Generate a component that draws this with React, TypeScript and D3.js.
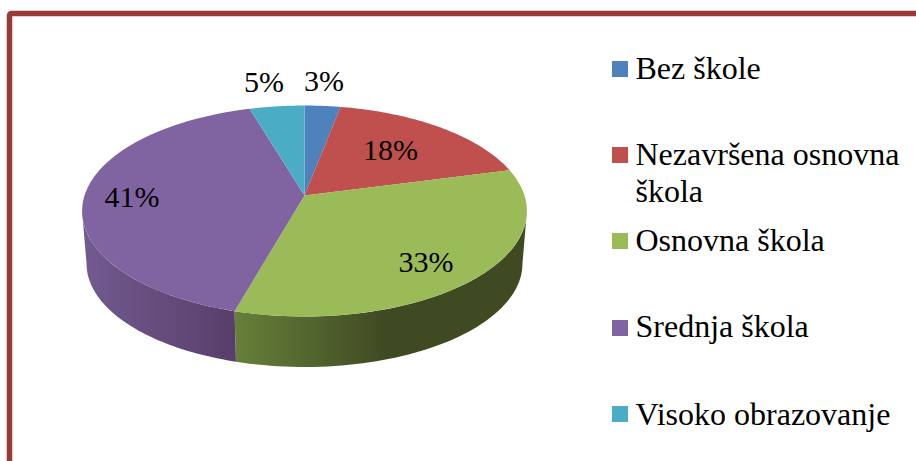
import React from 'react';
import * as d3 from 'd3';

const categories = ['Bez škole', 'Nezavršena osnovna škola', 'Osnovna škola', 'Srednja škola', 'Visoko obrazovanje'];
const values = [3, 17.9, 33.5, 41, 4.6];
const percentLabels = ['3%', '18%', '33%', '41%', '5%'];
const topColors = ['#4f81bd', '#c0504d', '#9bbb59', '#8064a2', '#4bacc6'];
const wallFrom = ['#3a5f8a', '#8c3a38', '#67803a', '#735a90', '#37808f'];
const wallTo = ['#3a5f8a', '#8c3a38', '#3f4a22', '#583f6a', '#37808f'];
const legendLines = [['Bez škole'], ['Nezavršena osnovna', 'škola'], ['Osnovna škola'], ['Srednja škola'], ['Visoko obrazovanje']];
const swatchY = [69, 155, 241, 328, 414];
const legendBaseline = [79, 165, 251, 337, 425];
const labelPos: [number, number][] = [[324, 91], [390.5, 160], [426, 272], [132, 207], [264, 92]];

const cx = 304.5, apexY = 195.5, a = 220, b = 103.2, k = 0.147;
const project = (ang: number, s: number, ay: number): [number, number] => {
  const x = Math.sin(ang), y = Math.cos(ang), w = 1 + k * y;
  return [cx + (s * a * x) / w, ay - (s * b * y) / w];
};
const arcPts = (a0: number, a1: number, s: number, ay: number) =>
  d3.range(0, 61).map((i) => project(a0 + ((a1 - a0) * i) / 60, s, ay));
const line = d3.line();
const arcs = d3.pie<number>().sort(null).value((d) => d)(values);
const BOTTOM_S = 0.98, BOTTOM_AY = 248.4;
// Angle at which the projected rim reaches its widest point: the wall's silhouette starts there.
const rimExtreme = Math.acos(-k);

export default function App() {
  return (
    <svg width={916} height={461} style={{ position: 'fixed', left: 0, top: 0, background: '#fff', display: 'block' }}>
      <defs>
        <linearGradient id="wall2" gradientUnits="userSpaceOnUse" x1={234} x2={385} y1={0} y2={0}>
          <stop offset="0" stopColor={wallFrom[2]} />
          <stop offset="1" stopColor={wallTo[2]} />
        </linearGradient>
        <linearGradient id="wall3" gradientUnits="userSpaceOnUse" x1={82} x2={234} y1={0} y2={0}>
          <stop offset="0" stopColor={wallFrom[3]} />
          <stop offset="1" stopColor={wallTo[3]} />
        </linearGradient>
      </defs>
      <path d="M9.5 461 V16 Q9.5 13.5 12 13.5 H916" fill="none" stroke="#993a37" strokeWidth={5.5} />
      {arcs.map((d, i) => {
        if (i !== 2 && i !== 3) return null;
        const s = Math.max(d.startAngle, rimExtreme);
        const e = Math.min(d.endAngle, 2 * Math.PI - rimExtreme);
        return (
          <path
            key={i}
            d={(line([...arcPts(s, e, 1, apexY), ...arcPts(e, s, BOTTOM_S, BOTTOM_AY)]) ?? '') + 'Z'}
            fill={`url(#wall${i})`}
          />
        );
      })}
      {arcs.map((d, i) => (
        <path
          key={i}
          d={(line([[cx, apexY], ...arcPts(d.startAngle, d.endAngle, 1, apexY)]) ?? '') + 'Z'}
          fill={topColors[i]}
        />
      ))}
      <g fontFamily="'Liberation Serif', serif" fill="#000">
        {percentLabels.map((t, i) => (
          <text key={t} x={labelPos[i][0]} y={labelPos[i][1]} fontSize={30} textAnchor="middle">
            {t}
          </text>
        ))}
        {categories.map((c, i) => (
          <g key={c}>
            <rect x={612} y={swatchY[i] - 8} width={16} height={16} fill={topColors[i]} />
            {legendLines[i].map((l, j) => (
              <text key={l} x={635.5} y={legendBaseline[i] + j * 36.5} fontSize={32}>
                {l}
              </text>
            ))}
          </g>
        ))}
      </g>
    </svg>
  );
}
